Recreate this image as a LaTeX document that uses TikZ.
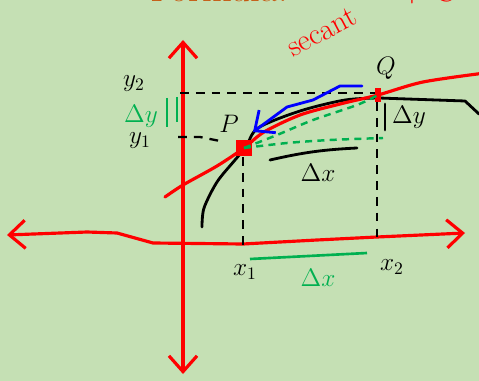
\documentclass[tikz,border=0pt]{standalone}
\usepackage{tikz}
\usetikzlibrary{arrows.meta,positioning}
\definecolor{sheet}{RGB}{197,224,180}
\definecolor{penred}{RGB}{255,0,0}
\definecolor{pengreen}{RGB}{0,176,80}
\definecolor{penblue}{RGB}{0,0,255}
\definecolor{titlebrown}{RGB}{197,90,17}
\tikzset{
  sketchtip/.tip={Straight Barb[length=9pt, width=16pt]},
  sketch-red/.style={draw=penred, line width=1.8pt, line cap=round, line join=round},
  sketch-black/.style={draw=black, line width=1.6pt, line cap=round, line join=round},
  sketch-guide/.style={draw=black, line width=1.3pt, dash pattern=on 5pt off 4pt},
  sketch-green/.style={draw=pengreen, line width=1.4pt, dash pattern=on 4pt off 3pt},
  sketch-label/.style={font=\Large, inner sep=1pt}
}

\begin{document}
\begin{tikzpicture}[x=0.02cm, y=-0.02cm]
  \fill[sheet] (0,0) rectangle (479,381);
  \useasboundingbox (0,0) rectangle (479,381);
  \clip (0,0) rectangle (479,381);
  % cut-off heading
  \node[anchor=base west, inner sep=0pt, text=titlebrown, font=\fontsize{22}{24}\selectfont] (heading) at (150,2) {Formula:};
  \node[anchor=base west, inner sep=0pt, text=penred, font=\fontsize{22}{24}\selectfont] (heading-c) at (398,2) {+\,C};
  % axes
  \coordinate (yaxis-top) at (183,40);
  \coordinate (yaxis-bottom) at (183,374);
  \coordinate (xaxis-left) at (7,235);
  \coordinate (xaxis-right) at (465,233);
  \draw[sketch-red, {sketchtip}-{sketchtip}] (yaxis-bottom) -- (yaxis-top);
  \draw[sketch-red, {sketchtip}-{sketchtip}] (xaxis-left) -- (87,232) -- (117,233) -- (153,243)
    -- (243,244) -- (317,240) -- (377,237) -- (xaxis-right);
  % points
  \coordinate (P) at (244,148);
  \coordinate (Q) at (378,95);
  % guide lines
  \draw[sketch-guide] (180,93) -- (Q |- 0,93);
  \draw[sketch-guide] (178,137) -- (200,137) -- (220,141);
  \draw[sketch-guide] (243,157) -- (243,247);
  \draw[sketch-guide] (377,102) -- (377,237);
  % curve
  \draw[sketch-black] plot[smooth, tension=0.5] coordinates {(202,227) (204,208) (217,182) (235,160) (246,147)
    (258,128) (300,111) (345,100) (379,98)} -- (465,101) -- (479,114);
  \draw[sketch-red] plot[smooth, tension=0.5] coordinates {(165,197) (183,185) (217,166) (244,148)
    (264,132) (300,115) (340,104) (Q) (423,82) (485,73)};
  \node[fill=penred, minimum size=9pt, inner sep=0pt] (P-dot) at (P) {};
  \node[fill=penred, minimum width=3pt, minimum height=8pt, inner sep=0pt] (Q-dot) at (Q) {};
  % secant pieces
  \draw[sketch-green] plot[smooth, tension=0.5] coordinates {(P) (277,135) (313,120) (357,105) (Q)};
  \draw[sketch-green] plot[smooth, tension=0.5] coordinates {(P) (287,143) (330,140) (383,138)};
  \draw[draw=penblue, line width=1.6pt, line cap=round, line join=round, -{sketchtip}]
    (362,86) -- (340,86) -- (313,100) -- (287,107) -- (253,132);
  % labels
  \node[sketch-label] (P-label) at (229,124) {$P$};
  \node[sketch-label] (Q-label) at (386,68) {$Q$};
  \node[sketch-label] (y2) at (134,84) {$y_2$};
  \node[sketch-label] (y1) at (140,141) {$y_1$};
  \node[sketch-label, text=pengreen] (dy-left) at (141,116) {$\Delta y$};
  \draw[draw=pengreen, line width=1.4pt] (167,98) -- (167,127);
  \draw[draw=pengreen, line width=1.4pt] (177,97) -- (177,122);
  \draw[sketch-black] (385,104) -- (385,130);
  \node[sketch-label] (dy-right) at (409,117) {$\Delta y$};
  \draw[sketch-black] (270,160) to[bend left=5] (357,148);
  \node[sketch-label] (dx-top) at (318,173) {$\Delta x$};
  \node[sketch-label] (x1) at (245,272) {$x_1$};
  \node[sketch-label] (x2) at (392,267) {$x_2$};
  \draw[draw=pengreen, line width=1.5pt] (250,259) -- (367,253);
  \node[sketch-label, text=pengreen] (dx-bottom) at (318,278) {$\Delta x$};
  \node[font=\LARGE, inner sep=0pt, text=penred, rotate=28] (secant) at (322,32) {secant};
\end{tikzpicture}
\end{document}
